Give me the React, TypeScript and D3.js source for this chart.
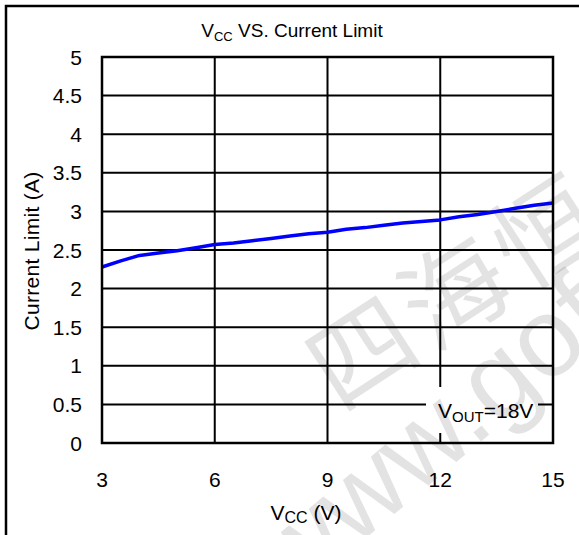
import React from "react";
import * as d3 from "d3";

// Vcc (V) vs current limit (A)
const vccValues = [3, 3.5, 4, 4.5, 5, 5.5, 6, 6.5, 7, 7.5, 8, 8.5, 9, 9.5, 10, 10.5, 11, 11.5, 12, 12.5, 13, 13.5, 14, 14.5, 15];
const currentLimit = [2.28, 2.36, 2.43, 2.46, 2.49, 2.53, 2.57, 2.59, 2.62, 2.65, 2.68, 2.71, 2.73, 2.77, 2.79, 2.82, 2.85, 2.87, 2.89, 2.93, 2.96, 3.0, 3.04, 3.08, 3.11];
const xTicks = [3, 6, 9, 12, 15];
const yTicks = [0, 0.5, 1, 1.5, 2, 2.5, 3, 3.5, 4, 4.5, 5];
const yTickLabels = ["0", "0.5", "1", "1.5", "2", "2.5", "3", "3.5", "4", "4.5", "5"];
const watermarkChars = ["四", "海", "恒"];

const W = 579;
const H = 535;
const plot = { left: 102, right: 553, top: 57, bottom: 443 };
const font = "'Liberation Sans', Arial, sans-serif";

const App: React.FC = () => {
  const x = d3.scaleLinear().domain([3, 15]).range([plot.left, plot.right]);
  const y = d3.scaleLinear().domain([0, 5]).range([plot.bottom, plot.top]);

  const line = d3
    .line<number>()
    .x((_, i) => x(vccValues[i]))
    .y((d) => y(d));

  return (
    <svg width={W} height={H} style={{ position: "absolute", left: 0, top: 0, background: "#fff" }} fontFamily={font}>
      {/* outer frame, open to the right and bottom */}
      <path d={`M6,${H} V6 H${W}`} fill="none" stroke="#000" strokeWidth={2.5} />

      <text x={292} y={37} textAnchor="middle" fontSize={19}>
        V<tspan fontSize={13} dy={4}>CC</tspan>
        <tspan dy={-4}> VS. Current Limit</tspan>
      </text>

      {/* grid */}
      <g stroke="#000" strokeWidth={2}>
        {yTicks.slice(1, -1).map((t) => (
          <line key={"h" + t} x1={plot.left} x2={plot.right} y1={y(t)} y2={y(t)} />
        ))}
        {xTicks.slice(1, -1).map((t) => (
          <line key={"v" + t} x1={x(t)} x2={x(t)} y1={plot.top} y2={plot.bottom} />
        ))}
      </g>

      <path d={line(currentLimit) || ""} fill="none" stroke="#0000ff" strokeWidth={3.5} strokeLinejoin="round" />

      <rect x={plot.left} y={plot.top} width={plot.right - plot.left} height={plot.bottom - plot.top} fill="none" stroke="#000" strokeWidth={2.5} />

      {/* annotation box */}
      <rect x={426} y={387} width={112} height={46} fill="#fff" />
      <text x={438} y={418} fontSize={21}>
        V<tspan fontSize={15} dy={4}>OUT</tspan>
        <tspan dy={-4}>=18V</tspan>
      </text>

      {/* y ticks */}
      <g fontSize={21} textAnchor="end">
        {yTicks.map((t, i) => (
          <text key={t} x={82} y={y(t) + 7.5}>{yTickLabels[i]}</text>
        ))}
      </g>
      {/* x ticks */}
      <g fontSize={21} textAnchor="middle">
        {xTicks.map((t) => (
          <text key={t} x={x(t)} y={487}>{t}</text>
        ))}
      </g>

      <text x={306} y={520} textAnchor="middle" fontSize={21}>
        V<tspan fontSize={16} dy={3}>CC</tspan>
        <tspan dy={-3}> (V)</tspan>
      </text>
      <text transform="translate(39,251) rotate(-90)" textAnchor="middle" fontSize={21} letterSpacing={0.3}>
        Current Limit (A)
      </text>

      {/* faint watermark */}
      <g fill="#000" fillOpacity={0.11} pointerEvents="none">
        {watermarkChars.map((c, i) => (
          <text
            key={c}
            fontFamily="'Noto Sans CJK SC', sans-serif"
            fontSize={104}
            textAnchor="middle"
            dominantBaseline="central"
            transform={`translate(${358 + i * 92},${346 - i * 60}) rotate(-33)`}
          >
            {c}
          </text>
        ))}
        <text fontSize={112} transform="translate(292,600) rotate(-40)">www.gof</text>
      </g>
    </svg>
  );
};

export default App;
